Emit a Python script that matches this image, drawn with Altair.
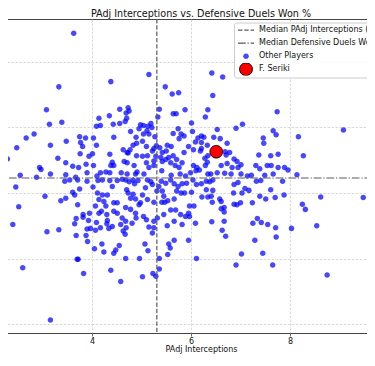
import altair as alt
import pandas as pd

# ---------------- data ----------------
other_x = [
    3.63, 3.33, 3.08, 3.14, 3.39, 2.83, 2.67, 3.16, 2.48, 3.48, 3.75, 3.87, 3.77, 3.81, 4.03, 2.29, 3.31, 3.76, 3.94, 4.01,
    3.47, 2.94, 2.97, 3.61, 3.73, 3.88, 2.55, 3.16, 3.47, 3.67, 2.88, 3.90, 4.03,
    2.46, 3.05, 2.52, 2.20, 2.40, 3.09, 3.33, 2.60, 3.16, 3.70, 3.72, 3.83, 3.68, 3.88, 3.91, 3.90, 3.97, 3.65, 3.68, 3.82,
    3.82, 3.93, 3.95, 3.71, 3.37, 3.47, 3.61, 3.75, 3.65, 4.02, 3.45, 3.55, 3.71, 3.90, 4.05,
    4.24, 4.20, 4.44, 4.48, 4.55, 4.68, 4.38, 4.58, 4.96, 5.02, 5.13, 5.07, 5.23, 5.29, 5.36, 5.36, 5.53, 5.58, 5.55, 5.66,
    5.95, 6.11, 6.91, 7.02, 7.29, 7.45, 7.65, 8.75,
    4.12, 4.21, 4.36, 4.51, 4.61, 4.68, 4.75, 4.86, 4.83, 4.93, 5.08, 5.12, 5.19, 5.22, 5.31, 5.35, 5.40, 5.49, 5.59, 5.66,
    5.74, 5.82, 5.91, 4.41, 4.11, 4.21, 4.31, 4.14, 4.24, 4.44, 4.51, 4.70, 4.73, 4.83, 4.78, 4.88, 5.02, 5.12, 4.98, 4.95,
    5.25, 5.42, 5.45, 5.53, 5.66, 5.71, 5.80, 5.87, 5.41, 5.47, 4.07, 4.28, 4.19, 4.14, 4.30, 4.44, 4.51, 4.68, 4.61, 4.78,
    4.88, 4.89, 5.04, 5.10, 5.25, 5.32, 5.59, 5.69, 5.79, 5.66, 5.52, 5.82, 5.89, 5.45, 4.09, 4.31, 4.30, 4.17, 4.41, 4.07,
    4.34, 4.58, 4.68, 4.69, 4.63, 4.67, 4.81, 5.15, 5.22, 5.25,
    5.15, 4.38, 5.48, 5.62, 5.75, 5.88, 5.36, 5.64, 5.70, 5.33, 4.56, 4.73, 4.75, 4.69, 4.70, 4.14, 4.35, 4.67, 4.56, 4.43,
    4.09, 4.17, 4.98, 5.04, 5.19, 5.13, 4.95, 5.11, 5.21, 5.74, 4.78, 5.80, 5.64, 4.89, 5.04, 5.15, 5.27, 4.44, 5.76, 5.86,
    4.90, 5.02, 4.83, 4.09, 4.63, 4.71, 4.77, 4.73, 5.10, 5.25, 5.30, 5.37, 5.22, 5.52, 5.60, 5.50, 5.42, 5.86, 4.36, 4.90,
    5.02, 5.12, 5.29, 5.39, 5.64, 5.71, 5.49, 5.55, 5.25, 4.41, 4.38, 4.44, 4.65, 4.71, 4.85, 5.10, 5.15, 5.25, 5.42, 5.59,
    5.68, 5.76, 5.82, 5.41, 4.17, 4.10, 4.28, 4.36, 4.59, 4.71, 4.88, 4.91, 5.05, 5.60, 5.78, 5.89,
    6.42, 6.64, 6.44, 6.34, 6.29, 7.74, 6.01, 7.04, 6.91, 6.53, 6.03, 7.66, 7.72, 6.21, 6.26, 6.46, 6.14, 7.46, 6.09, 6.21,
    6.59, 6.73, 7.47, 5.95, 6.05, 6.21, 6.33, 6.19, 6.69, 6.78, 6.71, 6.34, 6.28, 6.87, 7.37, 7.61, 7.76, 6.93, 6.33, 6.29,
    6.05, 6.12, 6.17, 6.10, 6.61, 6.73, 7.01, 6.83, 6.95, 7.31, 7.39, 7.54, 7.62, 7.76, 5.99, 6.34, 6.40, 6.53, 6.68, 6.81,
    7.01, 7.14, 7.22, 7.49, 7.66,
    9.08, 8.17, 8.27, 7.89, 7.96, 8.14, 8.62, 9.48, 8.25, 8.31, 8.03, 8.54, 7.88, 7.70, 7.85,
    6.01, 6.11, 6.21, 6.31, 6.38, 6.44, 6.04, 6.31, 6.44, 6.22, 6.34, 6.41, 6.43, 6.58, 6.61, 5.97, 6.06, 5.95, 5.97, 6.61,
    6.67, 6.67, 6.09, 6.42, 6.67, 6.63, 6.70,
    6.87, 6.95, 6.86, 6.87, 6.93, 7.00, 7.03, 7.09, 7.17, 7.32, 7.41, 7.61, 7.39, 7.51, 7.24, 7.34, 7.25, 7.42, 7.55, 7.71,
    7.72,
]
other_y = [
    84.4, 76.2, 72.7, 70.5, 70.8, 69.0, 68.4, 67.3, 66.9, 67.9, 68.6, 68.4, 67.7, 67.1, 68.4, 65.2, 65.3, 66.0, 65.6, 66.0,
    64.6, 63.9, 63.6, 64.1, 63.9, 64.4, 62.7, 62.9, 62.8, 62.4, 62.4, 63.1, 64.2,
    60.9, 59.5, 57.9, 55.8, 55.2, 54.1, 54.4, 48.6, 40.6, 49.9, 49.9, 47.7, 53.5, 53.5, 52.6, 54.5, 54.6, 55.3, 56.1, 56.7,
    56.3, 55.8, 56.9, 58.2, 58.8, 59.2, 60.1, 60.6, 59.7, 60.9, 61.8, 62.0, 62.0, 61.8, 51.5,
    51.0, 52.2, 50.8, 51.3, 52.0, 50.0, 48.2, 46.5, 50.0, 47.2, 51.2, 52.2, 47.7, 47.3, 50.0, 48.4, 50.6, 51.6, 52.2, 52.8,
    52.8, 50.0, 49.0, 50.7, 52.8, 50.8, 49.0, 47.5,
    61.9, 62.0, 61.9, 61.9, 62.1, 62.0, 61.7, 61.4, 62.0, 61.9, 60.8, 62.0, 61.7, 61.3, 60.3, 61.0, 61.8, 61.5, 62.0, 61.4,
    61.0, 61.4, 61.5, 61.0, 60.0, 59.7, 59.7, 59.0, 58.7, 58.5, 58.5, 60.5, 60.0, 59.8, 59.2, 59.1, 59.7, 59.0, 58.5, 58.2,
    58.6, 60.3, 59.5, 58.8, 59.1, 60.3, 60.0, 60.0, 58.6, 58.6, 58.0, 58.0, 57.2, 56.9, 56.7, 57.2, 56.9, 57.8, 56.2, 57.5,
    56.9, 56.2, 56.4, 55.9, 55.7, 56.2, 57.4, 57.4, 56.7, 55.7, 55.0, 55.2, 56.4, 56.7, 55.5, 55.8, 55.3, 54.7, 54.9, 54.3,
    54.6, 55.2, 55.7, 54.7, 54.2, 53.7, 55.4, 54.8, 53.9, 54.7,
    78.1, 77.0, 76.2, 75.1, 75.3, 72.7, 72.8, 72.1, 72.1, 71.6, 72.8, 73.0, 72.5, 72.2, 71.4, 71.4, 71.8, 70.9, 70.6, 70.5,
    70.2, 70.3, 70.4, 70.3, 70.6, 70.2, 69.8, 69.5, 70.0, 69.8, 69.4, 69.0, 69.1, 68.5, 69.0, 69.0, 68.6, 68.5, 68.3, 68.7,
    67.6, 67.9, 67.3, 67.3, 66.6, 66.2, 66.6, 66.1, 67.1, 66.8, 67.2, 66.9, 66.4, 67.3, 67.1, 66.4, 66.2, 66.2, 65.9, 65.7,
    65.6, 65.7, 65.6, 65.4, 65.7, 65.1, 65.1, 65.4, 64.9, 64.7, 64.2, 64.2, 64.8, 64.6, 64.2, 64.6, 63.9, 64.2, 64.8, 64.6,
    64.2, 63.9, 64.6, 63.4, 63.1, 62.6, 63.2, 63.1, 63.1, 62.9, 62.9, 63.2, 62.9, 62.7, 62.9, 62.6,
    78.3, 77.7, 74.9, 72.7, 71.6, 72.4, 70.7, 70.5, 69.9, 69.7, 69.4, 69.5, 68.9, 68.7, 68.5, 68.5, 68.4, 68.4, 67.8, 67.7,
    68.3, 67.6, 67.6, 67.1, 66.6, 66.8, 67.3, 66.4, 66.3, 66.2, 65.8, 65.7, 65.3, 65.2, 65.8, 65.7, 65.9, 64.8, 64.7, 64.2,
    64.2, 63.9, 63.5, 63.4, 64.2, 64.5, 64.3, 63.9, 63.9, 64.2, 63.7, 64.2, 64.2, 63.9, 63.1, 62.9, 62.9, 63.1, 63.0, 62.9,
    62.9, 62.6, 62.7, 62.7, 62.9,
    69.6, 68.6, 65.7, 63.9, 63.5, 62.8, 59.4, 59.3, 58.3, 57.5, 54.6, 55.0, 59.7, 59.3, 61.8,
    60.1, 61.3, 61.4, 61.8, 61.7, 62.0, 62.0, 60.5, 60.4, 59.4, 59.4, 59.5, 58.6, 59.1, 58.7, 58.0, 58.0, 56.9, 56.4, 57.6,
    57.8, 57.1, 55.4, 55.6, 55.7, 54.3, 53.4,
    61.3, 61.6, 60.0, 58.3, 58.2, 58.5, 60.0, 60.7, 60.4, 61.8, 61.9, 60.5, 59.5, 59.1, 58.5, 56.1, 55.4, 55.5, 55.2, 54.7,
    53.3,
]
seriki_x = [6.51]
seriki_y = [66.3]
median_x = 5.31
median_y = 62.29
x_ticks = [4, 6, 8]
y_ticks = [40, 50, 60, 70, 80]

MX = f"Median PAdj Interceptions ({median_x:.2f})"
MY = f"Median Defensive Duels Won % ({median_y:.2f})"
groups = [MX, MY, "Other Players", "F. Seriki"]

# ---------------- styling ----------------
FONT = "DejaVu Sans"
LINE_PATH = "M-2,0L2,0"


def circle_path(r):
    return f"M{r},0A{r},{r},0,1,1,{-r},0A{r},{r},0,1,1,{r},0Z"


DASH = [4.4, 1.9]
DASHDOT = [7.7, 1.9, 1.2, 1.9]
LINE_COLOR = "#5a5a5a"

X_DOMAIN = [1.717, 10.687]
Y_DOMAIN = [38.63, 86.56]

points = pd.concat([
    pd.DataFrame({"x": other_x, "y": other_y, "group": "Other Players"}),
    pd.DataFrame({"x": seriki_x, "y": seriki_y, "group": "F. Seriki"}),
], ignore_index=True)

xs = alt.Scale(domain=X_DOMAIN, nice=False, zero=False)
ys = alt.Scale(domain=Y_DOMAIN, nice=False, zero=False)

legend = alt.Legend(
    title=None, orient="none", legendX=255, legendY=3.5,
    labelFont=FONT, labelFontSize=8, labelColor="#111", labelLimit=400,
    padding=1.5, rowPadding=0, clipHeight=12.4, symbolOffset=5.5, labelOffset=8, symbolSize=64,
    fillColor="rgba(255,255,255,0.85)", strokeColor="#cccccc", cornerRadius=2,
)


def sc(rng, typ=None):
    if typ:
        return alt.Scale(domain=groups, range=rng, type=typ)
    return alt.Scale(domain=groups, range=rng)


x_enc = alt.X("x:Q", scale=xs, axis=alt.Axis(values=x_ticks, title="PAdj Interceptions"))
y_enc = alt.Y("y:Q", scale=ys, axis=alt.Axis(values=y_ticks, title=None, labels=False, ticks=False))

pts = alt.Chart(points).mark_point(opacity=1, size=62, clip=True).encode(
    x=x_enc,
    y=y_enc,
    fill=alt.Fill("group:N", scale=sc(["transparent", "transparent", "rgba(0,0,255,0.72)", "#ff0000"]), legend=legend),
    stroke=alt.Stroke("group:N", scale=sc([LINE_COLOR, LINE_COLOR, "transparent", "#000000"]), legend=legend),
    shape=alt.Shape("group:N", scale=sc([LINE_PATH, LINE_PATH, circle_path(0.7), circle_path(1.6)]), legend=legend),
    strokeWidth=alt.StrokeWidth("group:N", scale=sc([1.2, 1.2, 0, 1], "ordinal"), legend=legend),
    strokeDash=alt.StrokeDash("group:N", scale=sc([DASH, DASHDOT, [1, 0], [1, 0]]), legend=legend),
)

vline = alt.Chart(pd.DataFrame({"x": [median_x]})).mark_rule(
    color=LINE_COLOR, strokeDash=DASH, strokeWidth=1.2
).encode(x=alt.X("x:Q", scale=xs))
hline = alt.Chart(pd.DataFrame({"y": [median_y]})).mark_rule(
    color=LINE_COLOR, strokeDash=DASHDOT, strokeWidth=1.2
).encode(y=alt.Y("y:Q", scale=ys))

chart = alt.layer(pts, vline, hline).properties(
    width=444, height=314,
    autosize=alt.AutoSizeParams(type="none"),
    padding={"left": -29, "top": 11, "right": -56, "bottom": 21},
    title=alt.TitleParams(
        "PAdj Interceptions vs. Defensive Duels Won %",
        font=FONT, fontSize=9.6, fontWeight="normal", color="#111", anchor="middle", offset=0,
    ),
).configure_view(
    stroke="#444444", strokeWidth=1
).configure_axis(
    labelFont=FONT, labelFontSize=8, labelColor="#111",
    titleFont=FONT, titleFontSize=8, titleFontWeight="normal", titleColor="#111",
    tickColor="#444444", tickSize=3, tickWidth=0.8, labelPadding=1, titlePadding=0,
    domain=False, grid=True, gridColor="#c8c8c8", gridDash=[2.5, 1.5], gridWidth=0.7,
)

chart.save("out.html", embed_options={"renderer": "svg", "actions": False})
